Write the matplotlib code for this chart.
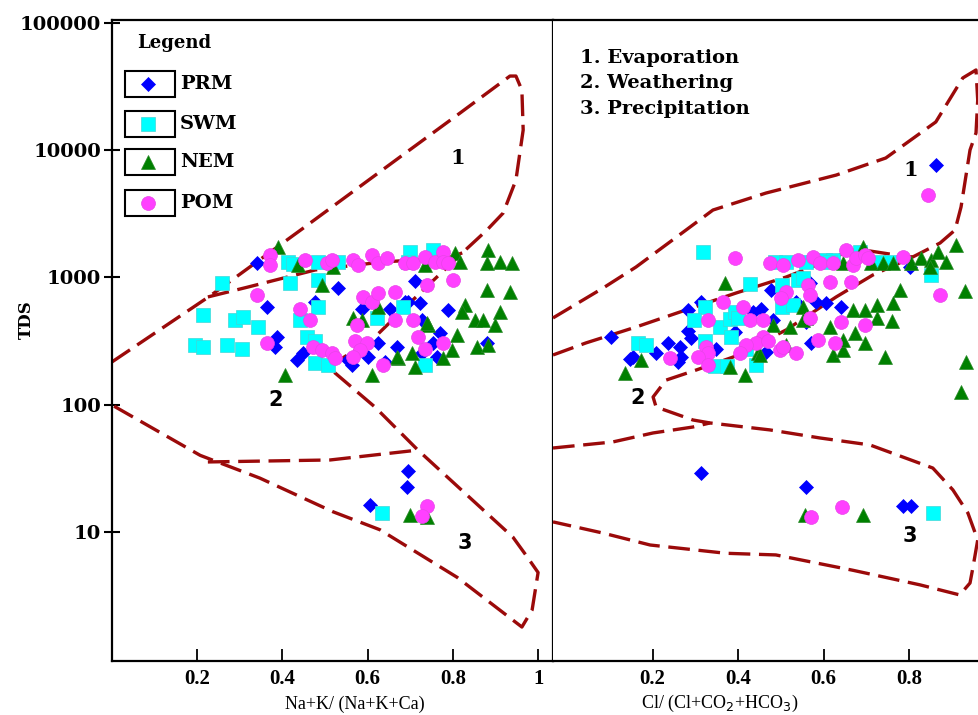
import matplotlib
matplotlib.use("Agg")
import matplotlib.pyplot as plt
from matplotlib.patches import Rectangle
from matplotlib.lines import Line2D

W, H = 979, 715

# ---------------- data: Na+K/(Na+K+Ca) panel ----------------
prm_na_x = [0.340, 0.364, 0.387, 0.383, 0.531, 0.477, 0.711, 0.789, 0.587, 0.653, 0.695, 0.723, 0.669,
            0.624, 0.601, 0.554, 0.563, 0.434, 0.448, 0.641, 0.728, 0.770, 0.754, 0.763, 0.728, 0.880,
            0.688, 0.695, 0.692, 0.606]
prm_na_tds = [1300, 586, 340, 284, 827, 642, 930, 556, 570, 570, 642, 630, 284,
              306, 237, 225, 205, 225, 255, 217, 464, 366, 306, 237, 255, 306,
              642, 30, 22.6, 16.3]

swm_na_x = [0.258, 0.214, 0.195, 0.214, 0.269, 0.305, 0.289, 0.308, 0.343, 0.413, 0.418, 0.484, 0.484,
            0.484, 0.441, 0.458, 0.477, 0.477, 0.507, 0.531, 0.700, 0.695, 0.754, 0.735, 0.683, 0.622,
            0.425, 0.634]
swm_na_tds = [905, 508, 295, 284, 295, 275, 464, 490, 408, 1324, 905, 1324, 956,
              586, 464, 340, 315, 211, 205, 1324, 1586, 1324, 1644, 205, 586, 481,
              1276, 14.1]

nem_na_x = [0.390, 0.437, 0.493, 0.519, 0.406, 0.610, 0.566, 0.624, 0.671, 0.704, 0.711, 0.742, 0.805,
            0.817, 0.883, 0.880, 0.911, 0.939, 0.880, 0.934, 0.829, 0.822, 0.852, 0.871, 0.911, 0.899,
            0.810, 0.857, 0.883, 0.798, 0.777, 0.735, 0.587, 0.669, 0.739, 0.700, 0.739]
nem_na_tds = [1750, 1250, 873, 1200, 171, 171, 481, 586, 231, 255, 198, 424, 1550,
              1324, 1644, 1300, 1324, 1300, 798, 769, 608, 536, 464, 464, 536, 424,
              353, 284, 295, 269, 231, 1250, 464, 237, 440, 13.6, 13.1]

pom_na_x = [0.371, 0.371, 0.453, 0.505, 0.516, 0.566, 0.577, 0.610, 0.624, 0.646, 0.688, 0.707, 0.735,
            0.758, 0.777, 0.777, 0.789, 0.800, 0.739, 0.340, 0.441, 0.465, 0.364, 0.589, 0.610, 0.624,
            0.664, 0.664, 0.707, 0.575, 0.718, 0.735, 0.777, 0.472, 0.493, 0.516, 0.523, 0.570, 0.599,
            0.582, 0.566, 0.636, 0.739, 0.728]
pom_na_tds = [1502, 1250, 1372, 1300, 1372, 1372, 1250, 1502, 1300, 1423, 1300, 1300, 1450,
              1324, 1586, 1324, 1300, 956, 873, 728, 570, 464, 306, 700, 642, 750,
              769, 464, 464, 424, 340, 276, 306, 284, 269, 255, 231, 315, 306,
              269, 237, 205, 16.0, 13.4]

# ---------------- data: Cl/(Cl+HCO3) panel ----------------
prm_cl_x = [0.103, 0.154, 0.147, 0.208, 0.236, 0.264, 0.266, 0.259, 0.283, 0.283, 0.290, 0.313, 0.348,
            0.393, 0.453, 0.477, 0.481, 0.568, 0.582, 0.605, 0.640, 0.535, 0.558, 0.570, 0.465, 0.801,
            0.435, 0.862, 0.313, 0.558, 0.785, 0.804]
prm_cl_tds = [340, 237, 228, 255, 306, 284, 237, 217, 556, 380, 333, 642, 276,
              375, 570, 798, 464, 905, 642, 630, 586, 642, 447, 306, 262, 1210,
              536, 7660, 29, 22.6, 16.0, 16.0]

swm_cl_x = [0.318, 0.428, 0.322, 0.297, 0.357, 0.381, 0.383, 0.166, 0.185, 0.322, 0.346, 0.374, 0.442,
            0.393, 0.502, 0.540, 0.551, 0.502, 0.528, 0.418, 0.486, 0.512, 0.558, 0.603, 0.621, 0.685,
            0.727, 0.755, 0.850, 0.400, 0.614, 0.855]
swm_cl_tds = [1590, 890, 586, 464, 408, 472, 340, 306, 295, 315, 202, 202, 205,
              536, 873, 956, 990, 586, 608, 276, 1324, 1324, 1324, 1372, 1372, 1586,
              1324, 1324, 1047, 481, 1324, 14.1]

nem_cl_x = [0.136, 0.173, 0.369, 0.381, 0.416, 0.446, 0.481, 0.521, 0.551, 0.558, 0.614, 0.621, 0.645,
            0.645, 0.668, 0.696, 0.724, 0.724, 0.759, 0.762, 0.778, 0.673, 0.696, 0.743, 0.692, 0.645,
            0.710, 0.738, 0.762, 0.804, 0.827, 0.850, 0.848, 0.867, 0.886, 0.909, 0.930, 0.932, 0.921,
            0.512, 0.451, 0.551, 0.556, 0.692]
nem_cl_tds = [178, 225, 905, 198, 171, 255, 424, 408, 586, 481, 408, 246, 269,
              323, 556, 556, 608, 481, 455, 630, 798, 366, 306, 237, 1730, 1300,
              1300, 1300, 1300, 1300, 1423, 1372, 1210, 1586, 1324, 1800, 780, 217, 126,
              295, 246, 464, 13.6, 13.6]

pom_cl_x = [0.393, 0.474, 0.505, 0.540, 0.575, 0.591, 0.621, 0.652, 0.668, 0.675, 0.696, 0.703, 0.785,
            0.614, 0.664, 0.563, 0.512, 0.500, 0.568, 0.364, 0.411, 0.329, 0.428, 0.458, 0.568, 0.640,
            0.696, 0.458, 0.442, 0.470, 0.418, 0.404, 0.325, 0.329, 0.306, 0.329, 0.241, 0.498, 0.505,
            0.535, 0.586, 0.626, 0.872, 0.843, 0.570, 0.643]
pom_cl_tds = [1423, 1300, 1250, 1372, 1450, 1300, 1300, 1644, 1250, 1423, 1502, 1423, 1450,
              920, 920, 873, 769, 690, 728, 642, 586, 464, 464, 464, 481, 447,
              424, 340, 306, 315, 295, 255, 284, 255, 237, 205, 231, 269, 284,
              255, 323, 306, 728, 4450, 13.1, 15.7]

# ---------------- Gibbs boundary envelopes ----------------
na_outer_x = [0.0, 0.230, 0.446, 0.676, 0.817, 0.934, 0.948, 0.962, 0.965, 0.948, 0.918, 0.880, 0.822,
              0.723, 0.610, 0.507, 0.617, 0.718, 0.941, 0.974, 1.000, 0.986, 0.962, 0.810, 0.629,
              0.519, 0.347, 0.207, 0.0]
na_outer_tds = [217, 716, 2404, 8850, 19630, 38300, 38300, 29700, 14420, 5830, 3210, 2360, 1560,
                755, 323, 198, 96, 44, 9.1, 6.4, 4.8, 2.44, 1.79, 4.4, 10.4,
                14.4, 26.5, 40, 99.5]
na_inner_x = [0.225, 0.319, 0.477, 0.634, 0.789, 0.822]
na_inner_tds = [703, 841, 1146, 1324, 1423, 1560]
na_low_x = [0.225, 0.512, 0.718]
na_low_tds = [35.5, 36.8, 44]

cl_outer_x = [-0.033, 0.084, 0.161, 0.278, 0.341, 0.465, 0.629, 0.745, 0.862, 0.925, 0.956, 0.960,
              0.956, 0.942, 0.921, 0.907, 0.872, 0.808, 0.715, 0.629, 0.512, 0.388, 0.301, 0.231,
              0.201, 0.208, 0.294, 0.334, 0.474, 0.591, 0.708, 0.785, 0.855, 0.902, 0.937, 0.960,
              0.949, 0.942, 0.918, 0.825, 0.668, 0.488, 0.371, 0.194, 0.084, -0.033]
cl_outer_tds = [481, 826, 1208, 2360, 3390, 4610, 6380, 8690, 16680, 36980, 42760, 24830,
                13680, 10040, 3580, 2360, 1867, 1449, 1047, 703, 387, 237, 187, 156,
                115, 96, 75.9, 71.9, 63.4, 54.8, 48.3, 38.8, 31.8, 21.4, 14.1, 8.65,
                5.3, 3.97, 3.2, 3.84, 5.0, 6.6, 6.8, 7.9, 9.8, 12.0]
cl_inner_x = [-0.033, 0.044, 0.161, 0.278, 0.395, 0.512, 0.614, 0.661, 0.708, 0.769, 0.808]
cl_inner_tds = [246, 306, 408, 556, 755, 1008, 1372, 1644, 1615, 1502, 1449]
cl_low_x = [-0.033, 0.107, 0.201, 0.294, 0.334]
cl_low_tds = [45.7, 51, 60, 66.8, 71.9]

y_ticks = [10, 100, 1000, 10000, 100000]
y_ticklabels = ["10", "100", "1000", "10000", "100000"]
na_ticks = [0.2, 0.4, 0.6, 0.8, 1.0]
na_ticklabels = ["0.2", "0.4", "0.6", "0.8", "1"]
cl_ticks = [0.2, 0.4, 0.6, 0.8]
cl_ticklabels = ["0.2", "0.4", "0.6", "0.8"]
legend_names = ["PRM", "SWM", "NEM", "POM"]
process_names = ["1. Evaporation", "2. Weathering", "3. Precipitation"]

# ---------------- styles ----------------
SERIF_B = dict(family="DejaVu Serif", weight="bold")
LINE_C = "#9b0a0a"
styles = {
    "PRM": dict(marker="D", ms=7.2, mfc="#0000ff", mec="#0000ff", mew=0.5),
    "SWM": dict(marker="s", ms=9.5, mfc="#00ffff", mec="#40d8d8", mew=0.5),
    "NEM": dict(marker="^", ms=10, mfc="#008000", mec="#2a8a2a", mew=0.5),
    "POM": dict(marker="o", ms=10, mfc="#ff40ff", mec="#e845e8", mew=0.5),
}

fig = plt.figure(figsize=(W / 100, H / 100), dpi=100)
top_px, bot_px = 20, 661
axL = fig.add_axes([112 / W, 1 - bot_px / H, (553 - 112) / W, (bot_px - top_px) / H])
axR = fig.add_axes([553 / W, 1 - bot_px / H, (979 - 553) / W, (bot_px - top_px) / H])

dash = (0, (6.5, 2.6))
for ax in (axL, axR):
    ax.set_yscale("log")
    ax.set_ylim(0.968, 105600)
    ax.minorticks_off()
    for sp in ax.spines.values():
        sp.set_linewidth(1.6)
        sp.set_color("black")

axL.set_xlim(0, 1.035)
axR.set_xlim(-0.033, 0.963)
axR.spines["right"].set_visible(False)
axR.spines["left"].set_visible(False)

# boundaries
axL.plot(na_outer_x, na_outer_tds, color=LINE_C, lw=2.4, ls=dash, zorder=2)
axL.plot(na_inner_x, na_inner_tds, color=LINE_C, lw=2.4, ls=dash, zorder=2)
axL.plot(na_low_x, na_low_tds, color=LINE_C, lw=2.4, ls=dash, zorder=2)
axR.plot(cl_outer_x, cl_outer_tds, color=LINE_C, lw=2.4, ls=dash, zorder=2, clip_on=False)
axR.plot(cl_inner_x, cl_inner_tds, color=LINE_C, lw=2.4, ls=dash, zorder=2)
axR.plot(cl_low_x, cl_low_tds, color=LINE_C, lw=2.4, ls=dash, zorder=2)

# points
axL.plot(prm_na_x, prm_na_tds, ls="none", zorder=3, **styles["PRM"])
axL.plot(swm_na_x, swm_na_tds, ls="none", zorder=3, **styles["SWM"])
axL.plot(nem_na_x, nem_na_tds, ls="none", zorder=3, **styles["NEM"])
axL.plot(pom_na_x, pom_na_tds, ls="none", zorder=3, **styles["POM"])
axR.plot(prm_cl_x, prm_cl_tds, ls="none", zorder=3, **styles["PRM"])
axR.plot(swm_cl_x, swm_cl_tds, ls="none", zorder=3, **styles["SWM"])
axR.plot(nem_cl_x, nem_cl_tds, ls="none", zorder=3, **styles["NEM"])
axR.plot(pom_cl_x, pom_cl_tds, ls="none", zorder=3, **styles["POM"])

# ticks
axL.set_yticks(y_ticks)
axL.set_yticklabels(y_ticklabels, fontdict=dict(size=14, **SERIF_B))
axL.tick_params(axis="y", direction="inout", length=12, width=1.5, pad=2)
axR.set_yticks([])
axL.set_xticks(na_ticks)
axL.set_xticklabels(na_ticklabels, family="Liberation Serif", weight="bold", size=15)
axR.set_xticks(cl_ticks)
axR.set_xticklabels(cl_ticklabels, family="Liberation Serif", weight="bold", size=15)
for ax in (axL, axR):
    ax.tick_params(axis="x", direction="in", length=9, width=1.3, pad=6)

# region numbers
axL.text(0.812, 8690, "1", ha="center", va="center", size=15, **SERIF_B)
axL.text(0.385, 109, "2", ha="center", va="center", size=15, family="DejaVu Sans", weight="bold")
axL.text(0.829, 8.2, "3", ha="center", va="center", size=15, family="DejaVu Sans", weight="bold")
axR.text(0.804, 7000, "1", ha="center", va="center", size=15, **SERIF_B)
axR.text(0.164, 113, "2", ha="center", va="center", size=15, family="DejaVu Sans", weight="bold")
axR.text(0.801, 9.3, "3", ha="center", va="center", size=15, family="DejaVu Sans", weight="bold")

# process list
for i, t in enumerate(process_names):
    fig.text(580 / W, 1 - (58 + 25.5 * i) / H, t, ha="left", va="center", size=14, **SERIF_B)

# axis labels
fig.text(26 / W, 1 - 320 / H, "TDS", rotation=90, ha="center", va="center", size=12, **SERIF_B)
fig.text(355 / W, 1 - 704 / H, "Na+K/ (Na+K+Ca)", ha="center", va="center", size=13,
         family="Liberation Serif")
fig.text(720 / W, 1 - 703 / H, "Cl/ (Cl+CO$_2$+HCO$_3$)", ha="center", va="center", size=13,
         family="Liberation Serif")

# legend
fig.text(137 / W, 1 - 43 / H, "Legend", ha="left", va="center", size=13, **SERIF_B)
for i, name in enumerate(legend_names):
    cy = [84, 124, 162, 203][i]
    fig.add_artist(Rectangle((125 / W, 1 - (cy + 12.5) / H), 50 / W, 25 / H,
                             transform=fig.transFigure, fill=False, lw=1.5, ec="black"))
    st = dict(styles[name])
    fig.add_artist(Line2D([148 / W], [1 - cy / H], transform=fig.transFigure, ls="none", **st))
    fig.text(180 / W, 1 - cy / H, name, ha="left", va="center", size=14, **SERIF_B)

fig.savefig("out.png", dpi=100)
